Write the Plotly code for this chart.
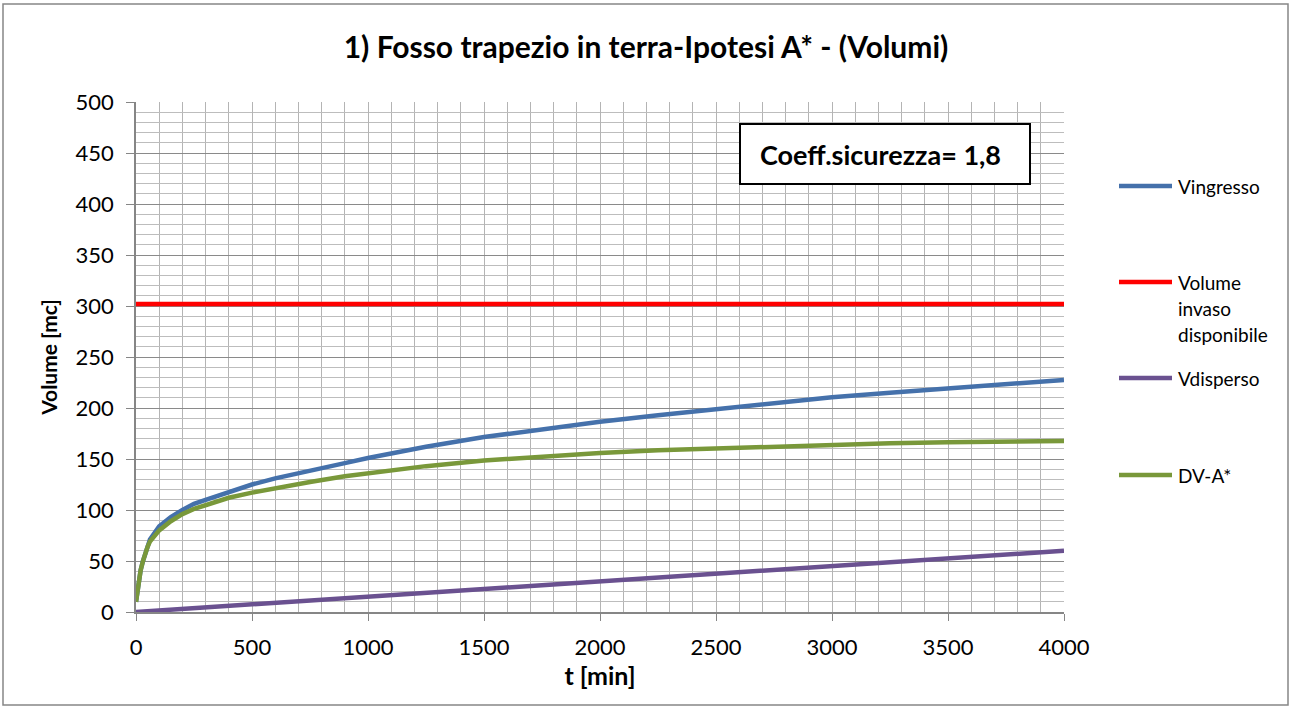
import plotly.graph_objects as go

# ---- data ----
t_min = [0, 5, 10, 20, 30, 40, 50, 60, 100, 150, 200, 250, 300, 400, 500, 600, 750, 900, 1000,
         1250, 1500, 1750, 2000, 2250, 2500, 2750, 3000, 3250, 3500, 3750, 4000]
v_ingresso = [10, 20, 28, 41, 50, 58, 65, 71, 84, 93, 100, 106, 110, 118, 125, 131, 139, 146, 151,
              162, 171.5, 179.5, 186.5, 193, 199, 205, 210.5, 215, 219.5, 223.5, 227.5]
v_invaso = [302] * len(t_min)
v_disperso = [0, 0.08, 0.15, 0.3, 0.45, 0.6, 0.75, 0.9, 1.5, 2.25, 3, 3.75, 4.5, 6, 7.5, 9, 11.25, 13.5, 15,
              18.75, 22.5, 26.25, 30, 33.75, 37.5, 41.25, 45, 48.75, 52.5, 56.25, 60]
dv_a = [10, 20, 28, 41, 50, 58, 64, 69, 80, 89, 96, 101, 105, 112, 117, 121.5, 127.5, 133, 136,
        143, 148.5, 152.5, 156, 158.5, 160.5, 162.5, 164.3, 165.5, 166.5, 167.2, 167.6]

series_names = ["Vingresso", "Volume<br>invaso<br>disponibile", "Vdisperso", "DV-A*"]
series_colors = ["#4571AB", "#FF0000", "#6A5190", "#79983A"]
series_values = [v_ingresso, v_invaso, v_disperso, dv_a]

title_text = "1) Fosso trapezio in terra-Ipotesi A* - (Volumi)"
x_title = "t [min]"
y_title = "Volume [mc]"
box_text = "Coeff.sicurezza= 1,8"

FONT = "Lato"

# ---- geometry ----
W, H = 1292, 709
L, R, T, B = 136, 1064, 102, 612


def px_x(p):
    return (p - L) / (R - L)


def px_y(p):
    return (B - p) / (B - T)


fig = go.Figure()
for name, col, vals in zip(series_names, series_colors, series_values):
    fig.add_trace(go.Scatter(x=t_min, y=vals, mode="lines", name=name.replace("<br>", " "),
                             line=dict(color=col, width=4.5), showlegend=False, hoverinfo="skip"))

fig.update_layout(
    width=W, height=H,
    margin=dict(l=L, r=W - R, t=T, b=H - B),
    paper_bgcolor="white", plot_bgcolor="white",
    font=dict(family=FONT, size=22, color="black"),
    title=dict(text="<b>" + title_text + "</b>", x=0.5, xanchor="center", y=1 - 47 / H, yanchor="middle",
               font=dict(family=FONT, size=30, color="black")),
    xaxis=dict(range=[0, 4000], dtick=500, tick0=0, showgrid=True, gridcolor="#B4B4B4", gridwidth=1,
               minor=dict(dtick=100, showgrid=True, gridcolor="#B4B4B4", gridwidth=1),
               showline=True, linecolor="#868686", linewidth=1.5, ticks="outside", ticklen=7,
               tickcolor="#868686", zeroline=False, ticklabelstandoff=8,
               title=dict(text="<b>" + x_title + "</b>", font=dict(family=FONT, size=25), standoff=4),
               tickfont=dict(family=FONT, size=22)),
    yaxis=dict(range=[0, 500], dtick=50, tick0=0, showgrid=True, gridcolor="#8A8A8A", gridwidth=1.2,
               minor=dict(dtick=10, showgrid=True, gridcolor="#BDBDBD", gridwidth=1),
               showline=True, linecolor="#868686", linewidth=1.5, ticks="outside", ticklen=8,
               tickcolor="#868686", zeroline=False, ticklabelstandoff=8,
               title=dict(text="<b>" + y_title + "</b>", font=dict(family=FONT, size=21), standoff=12),
               tickfont=dict(family=FONT, size=22)),
)

shapes = []
# outer chart border
shapes.append(dict(type="rect", xref="paper", yref="paper",
                   x0=px_x(3), x1=px_x(1288), y0=px_y(705), y1=px_y(4),
                   line=dict(color="#868686", width=1.5), fillcolor="rgba(0,0,0,0)", layer="below"))
# coefficient box
shapes.append(dict(type="rect", xref="paper", yref="paper",
                   x0=px_x(740), x1=px_x(1030), y0=px_y(184), y1=px_y(124),
                   line=dict(color="black", width=2), fillcolor="white", layer="above"))

annotations = [dict(text="<b>" + box_text + "</b>", xref="paper", yref="paper",
                    x=px_x(880), y=px_y(155), xanchor="center", yanchor="middle", showarrow=False,
                    font=dict(family=FONT, size=27, color="black"))]

# manual legend
legend_y = [186, 282, 378, 475]
line_gap = 26
for name, col, ly in zip(series_names, series_colors, legend_y):
    shapes.append(dict(type="line", xref="paper", yref="paper",
                       x0=px_x(1119), x1=px_x(1172), y0=px_y(ly), y1=px_y(ly),
                       line=dict(color=col, width=4.5)))
    for k, part in enumerate(name.split("<br>")):
        annotations.append(dict(text=part, xref="paper", yref="paper", x=px_x(1176),
                                y=px_y(ly + k * line_gap), xanchor="left", yanchor="middle",
                                align="left", showarrow=False,
                                font=dict(family=FONT, size=19, color="black")))

fig.update_layout(shapes=shapes, annotations=annotations)
fig.write_html("out.html", config={"displayModeBar": False},
               post_script="document.body.style.margin='0px';")
